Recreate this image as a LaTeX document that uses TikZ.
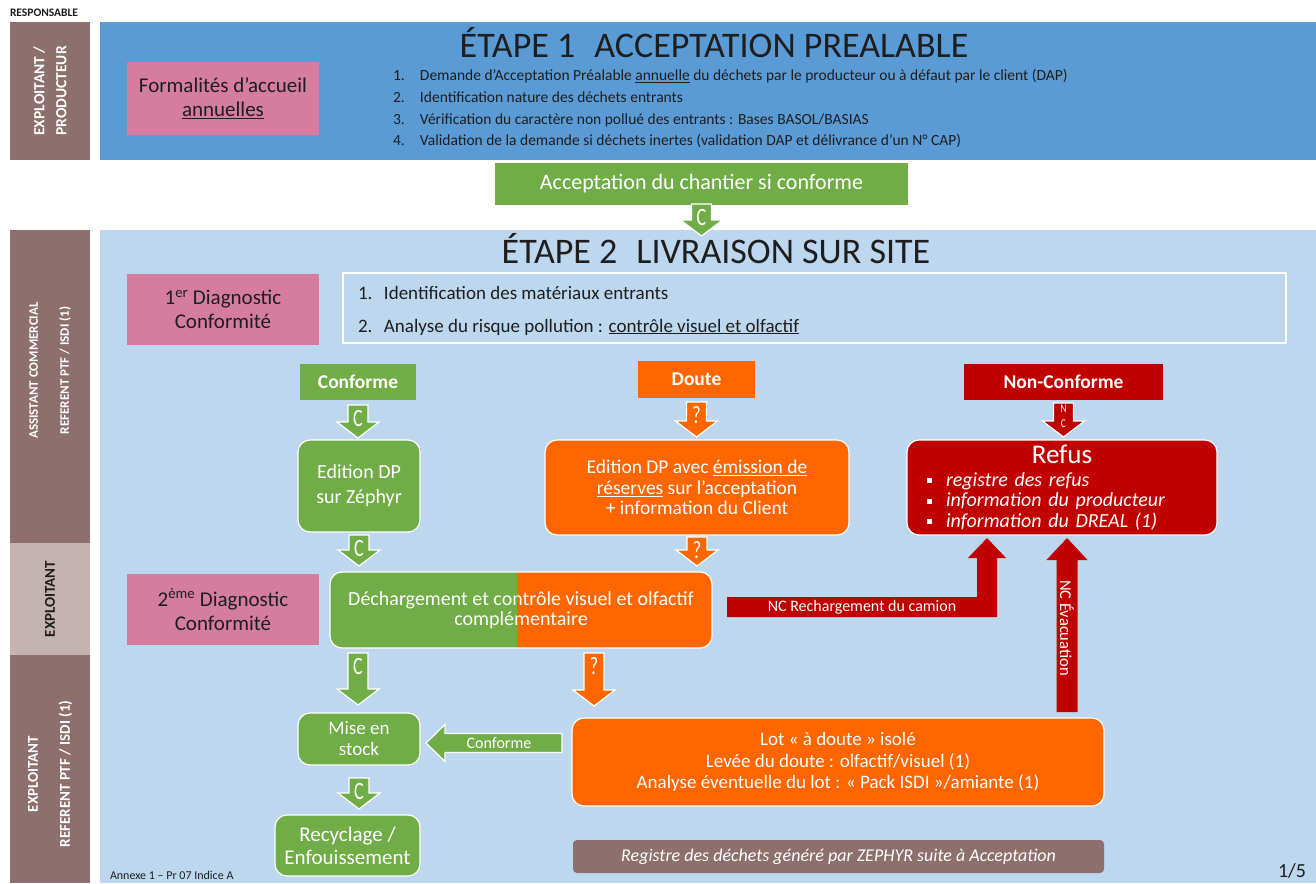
\documentclass[tikz,border=0pt]{standalone}
\usepackage{fontspec}
\usepackage{graphicx}
\setmainfont{Carlito}
\usetikzlibrary{calc}
\definecolor{lanebrown}{RGB}{141,112,110}
\definecolor{lanelight}{RGB}{196,179,177}
\definecolor{stepblue}{RGB}{91,155,213}
\definecolor{paleblue}{RGB}{189,215,238}
\definecolor{diagpink}{RGB}{212,125,158}
\definecolor{okgreen}{RGB}{112,173,71}
\definecolor{doubtorange}{RGB}{255,102,0}
\definecolor{ncred}{RGB}{192,0,0}
\definecolor{inkdark}{RGB}{30,30,30}
\newcommand\mybul{\raisebox{3pt}{\rule{5pt}{5pt}}}
\newcommand\arrchar[1]{\scalebox{0.72}[1]{#1}}
% #1 colour, #2 label, #3 start anchor, #4 start offset, #5 end anchor, #6 end offset, #7 label font
\newcommand\dnarrow[7]{%
  \path[fill=#1, draw=white, line width=1.2pt] let \p1=($(#3)+(#4)$), \p2=($(#5)+(#6)$) in
    (\x1-10pt,\y1) -- (\x1+10pt,\y1) -- (\x1+10pt,\y2+16pt) -- (\x1+21pt,\y2+16pt)
    -- (\x1,\y2) -- (\x1-21pt,\y2+16pt) -- (\x1-10pt,\y2+16pt) -- cycle;
  \node[text=white, align=center, font=#7] at ($(#3)+(#4)+(0,13)$) {#2};
}
\begin{document}
\begin{tikzpicture}[x=1pt,y=-1pt,
  every node/.style={inner sep=0pt, outer sep=0pt},
  lane/.style={fill=lanebrown, anchor=north west, minimum width=80pt},
  lanetext/.style={rotate=90, text=white, align=center},
  panel/.style={anchor=north west, minimum width=1216pt},
  steptitle/.style={anchor=base, text=inkdark, font=\fontsize{36}{40}\selectfont},
  listline/.style={anchor=base west, text=inkdark, font=\fontsize{15.5}{19}\selectfont},
  diagbox/.style={fill=diagpink, anchor=north west, minimum width=192pt, minimum height=72pt, align=center, text=inkdark, font=\fontsize{21}{24}\selectfont},
  tag/.style={anchor=north west, text=white, font=\bfseries\fontsize{19.5}{22}\selectfont},
  rbox/.style={anchor=north west, rounded corners=12pt, draw=white, line width=1.2pt, text=white, align=center},
  ]
\useasboundingbox (0,0) rectangle (1316,883);
\fill[white] (0,0) rectangle (1316,883);

% responsible column
\node[anchor=base west, text=inkdark, font=\bfseries\fontsize{11.5}{13}\selectfont] (resp) at (10,17) {RESPONSABLE};
\node[lane, minimum height=138pt] (lane1) at (10,22) {};
\node[lanetext, font=\bfseries\fontsize{15.5}{22}\selectfont] at (lane1.center) {EXPLOITANT /\\PRODUCTEUR};
\node[lane, minimum height=313pt] (lane2) at (10,230) {};
\node[lanetext, font=\bfseries\fontsize{13}{31}\selectfont] at ($(lane2.center)+(0,-16)$) {ASSISTANT COMMERCIAL\\REFERENT PTF / ISDI (1)};
\node[lane, fill=lanelight, minimum height=112pt] (lane3) at (10,543) {};
\node[lanetext, text=inkdark, font=\bfseries\fontsize{15}{18}\selectfont] at (lane3.center) {EXPLOITANT};
\node[lane, minimum height=228pt] (lane4) at (10,655) {};
\node[lanetext, font=\bfseries\fontsize{15}{32}\selectfont] at ($(lane4.center)+(0,5)$) {EXPLOITANT\\REFERENT PTF / ISDI (1)};

% step 1
\node[panel, fill=stepblue, minimum height=138pt] (step1) at (100,22) {};
\node[steptitle] (t1) at (714,57) {ÉTAPE 1\hspace{0.3em} ACCEPTATION PREALABLE};
\node[diagbox, minimum height=73pt] (form) at (127,62) {Formalités d’accueil\\\underline{annuelles}};
\node[listline] (l1) at (393,81) {\makebox[27pt][l]{1.}Demande d’Acceptation Préalable \underline{annuelle} du déchets par le producteur ou à défaut par le client (DAP)};
\node[listline] (l2) at (393,102) {\makebox[27pt][l]{2.}Identification nature des déchets entrants};
\node[listline] (l3) at (393,124) {\makebox[27pt][l]{3.}Vérification du caractère non pollué des entrants : Bases BASOL/BASIAS};
\node[listline] (l4) at (393,145) {\makebox[27pt][l]{4.}Validation de la demande si déchets inertes (validation DAP et délivrance d’un N° CAP)};
\node[anchor=north west, fill=okgreen, minimum width=413pt, minimum height=42pt, text=white, font=\fontsize{22}{24}\selectfont] (accept) at (495,163) {Acceptation du chantier si conforme};

% step 2
\node[panel, fill=paleblue, minimum height=653pt] (step2) at (100,230) {};
\dnarrow{okgreen}{\arrchar{C}}{accept.south}{0,-1}{accept.south}{0,31}{\fontsize{25}{25}\selectfont}
\node[steptitle] (t2) at (716,263) {ÉTAPE 2\hspace{0.3em} LIVRAISON SUR SITE};
\node[diagbox, minimum height=71pt] (diag1) at (127,274) {1\textsuperscript{er} Diagnostic\\Conformité};
\node[anchor=north west, draw=white, line width=2pt, minimum width=943pt, minimum height=70pt] (list2) at (343,273) {};
\node[listline, font=\fontsize{19}{22}\selectfont] (m1) at (358,299) {\makebox[26pt][l]{1.}Identification des matériaux entrants};
\node[listline, font=\fontsize{19}{22}\selectfont] (m2) at (358,332) {\makebox[26pt][l]{2.}Analyse du risque pollution : \underline{contrôle visuel et olfactif}};

\node[tag, fill=okgreen, minimum width=116pt, minimum height=36pt] (conf) at (300,364) {Conforme};
\node[tag, fill=doubtorange, minimum width=117pt, minimum height=37pt] (doute) at (638,361) {Doute};
\node[tag, fill=ncred, minimum width=199pt, minimum height=36pt] (nonconf) at (964,364) {Non-Conforme};

\node[rbox, fill=okgreen, minimum width=122pt, minimum height=92pt, font=\fontsize{20}{25}\selectfont] (ed1) at (298,440) {Edition DP\\sur Zéphyr};
\node[rbox, fill=doubtorange, minimum width=304pt, minimum height=95pt, font=\fontsize{19.5}{20.5}\selectfont] (ed2) at (545,440) {Edition DP avec \underline{émission de}\\\underline{réserves} sur l’acceptation\\+ information du Client};
\node[rbox, fill=ncred, minimum width=310pt, minimum height=95pt, text width=290pt, align=left, font=\itshape\fontsize{20}{20.5}\selectfont] (refus) at (907,440) {{\centering\upshape\fontsize{27}{27}\selectfont Refus\par}\vspace{2pt}
\hspace*{10pt}\mybul\hspace{14pt}registre des refus\par
\hspace*{10pt}\mybul\hspace{14pt}information du producteur\par
\hspace*{10pt}\mybul\hspace{14pt}information du DREAL (1)\par};

\node[diagbox, minimum height=71pt] (diag2) at (127,574) {2\textsuperscript{ème} Diagnostic\\Conformité};
\node[rbox, fill=doubtorange, minimum width=382pt, minimum height=76pt, font=\fontsize{20}{20.5}\selectfont,
  path picture={\fill[okgreen, sharp corners] (path picture bounding box.north west) rectangle ([xshift=187pt]path picture bounding box.south west);}] (dech) at (330,572) {Déchargement et contrôle visuel et olfactif\\complémentaire};

\node[rbox, fill=okgreen, minimum width=122pt, minimum height=52pt, font=\fontsize{19}{21}\selectfont] (stock) at (298,713) {Mise en\\stock};
\node[rbox, fill=okgreen, minimum width=145pt, minimum height=61pt, font=\fontsize{21}{23}\selectfont] (recyc) at (275,815) {Recyclage /\\Enfouissement};
\node[rbox, fill=doubtorange, minimum width=532pt, minimum height=88pt, font=\fontsize{19}{21.5}\selectfont] (lot) at (572,718) {Lot « à doute » isolé\\Levée du doute : olfactif/visuel (1)\\Analyse éventuelle du lot : « Pack ISDI »/amiante (1)};
\node[anchor=north west, fill=lanebrown, rounded corners=4pt, minimum width=531pt, minimum height=33pt, text=white, font=\itshape\fontsize{18}{20}\selectfont] (reg) at (573,840) {Registre des déchets généré par ZEPHYR suite à Acceptation};

\node[anchor=base west, text=inkdark, font=\fontsize{12}{14}\selectfont] (annexe) at (110,879) {Annexe 1 – Pr 07 Indice A};
\node[anchor=base east, text=inkdark, font=\fontsize{20}{24}\selectfont] (page) at (1306,877) {1/5};

% down arrows
\dnarrow{okgreen}{\arrchar{C}}{conf.south}{0,5}{ed1.north}{0,-2}{\fontsize{25}{25}\selectfont}
\dnarrow{doubtorange}{\arrchar{?}}{doute.south}{0,4}{ed2.north}{0,-3}{\fontsize{25}{25}\selectfont}
\dnarrow{ncred}{\scalebox{0.8}[1]{N}\\\scalebox{0.8}[1]{C}}{nonconf.south}{0,3}{refus.north}{0,-3}{\fontsize{12}{15}\selectfont}
\dnarrow{okgreen}{\arrchar{C}}{ed1.south}{0,3}{dech.north}{0,-6}{\fontsize{25}{25}\selectfont}
\dnarrow{doubtorange}{\arrchar{?}}{ed2.south}{0,2}{dech.north}{0,-6}{\fontsize{25}{25}\selectfont}
\dnarrow{okgreen}{\arrchar{C}}{dech.south west}{28,5}{stock.north}{0,-8}{\fontsize{25}{25}\selectfont}
\dnarrow{doubtorange}{\arrchar{?}}{dech.south west}{264,5}{lot.north west}{22,-12}{\fontsize{25}{25}\selectfont}
\dnarrow{okgreen}{\arrchar{C}}{stock.south}{0,13}{recyc.north}{0,-6}{\fontsize{25}{25}\selectfont}

% conforme arrow (lot -> stock)
\path[fill=okgreen, draw=white, line width=1.2pt] let \p1=($(lot.west)+(-10,0)$), \p2=($(stock.east)+(6,4)$) in
  (\x1,\y2+9.5pt) -- (\x2+19pt,\y2+9.5pt) -- (\x2+19pt,\y2+18.5pt) -- (\x2,\y2)
  -- (\x2+19pt,\y2-18.5pt) -- (\x2+19pt,\y2-9.5pt) -- (\x1,\y2-9.5pt) -- cycle;
\node[text=white, font=\fontsize{16}{18}\selectfont] (conflab) at ($(stock.east)+(79,4)$) {Conforme};

% NC rechargement (dech -> refus)
\path[fill=ncred] let \p1=(dech.east), \p2=($(refus.south)+(-75,3)$) in
  (\x1+15pt,\y1+13pt) -- (\x2-10pt,\y1+13pt) -- (\x2-10pt,\y2-20pt) -- (\x2-19pt,\y2-20pt)
  -- (\x2,\y2) -- (\x2+19pt,\y2-20pt) -- (\x2+10pt,\y2-20pt) -- (\x2+10pt,\y1-7pt)
  -- (\x1+15pt,\y1-7pt) -- cycle;
\node[text=white, font=\fontsize{16}{18}\selectfont] (nclab1) at ($(dech.east)+(150,-3)$) {NC Rechargement du camion};

% NC evacuation (lot -> refus)
\path[fill=ncred] let \p1=($(lot.north east)+(-37,-6)$), \p2=($(refus.south)+(5,3)$) in
  (\x1-10.5pt,\y1) -- (\x1-10.5pt,\y2-22pt) -- (\x1-20.5pt,\y2-22pt) -- (\x1,\y2)
  -- (\x1+20.5pt,\y2-22pt) -- (\x1+10.5pt,\y2-22pt) -- (\x1+10.5pt,\y1) -- cycle;
\node[rotate=-90, text=white, font=\fontsize{16.5}{18}\selectfont] (nclab2) at ($(lot.north east)+(-37,-90)$) {NC Évacuation};
\end{tikzpicture}
\end{document}
